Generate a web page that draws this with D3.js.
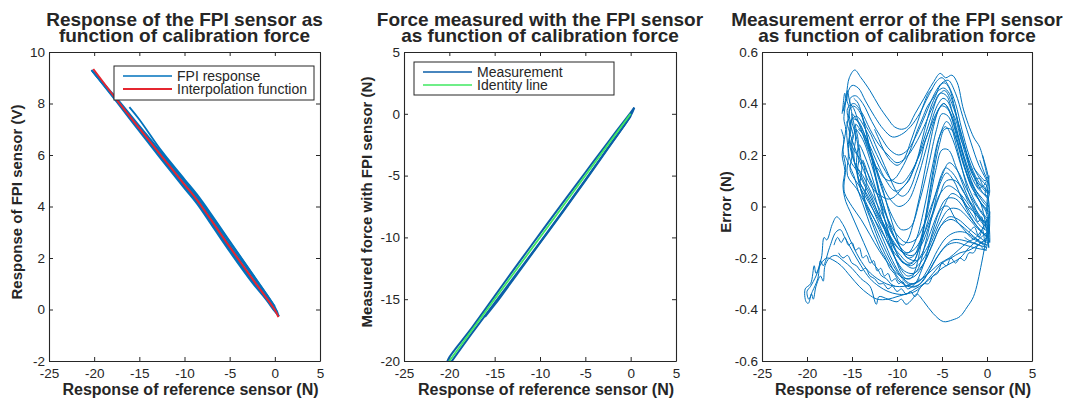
<!DOCTYPE html>
<html>
<head>
<meta charset="utf-8">
<script src="https://cdn.jsdelivr.net/npm/d3@7"></script>
<style>
  body { margin: 0; background: #fff; }
  text { font-family: "Liberation Sans", Arial, Helvetica, sans-serif; fill: #262626; }
</style>
</head>
<body>
<script>
var width = 1067, height = 401

// ---- shared ticks
var forceTicks = [-25, -20, -15, -10, -5, 0, 5]
var voltTicks = [-2, 0, 2, 4, 6, 8, 10]
var measTicks = [-20, -15, -10, -5, 0, 5]
var errTicks = [-0.6, -0.4, -0.2, 0, 0.2, 0.4, 0.6]

// ---- panel 1: FPI response (force N, voltage V)
var fpiLoad = [[0.45,-0.26],[0,0.1],[-1,0.62],[-2.5,1.38],[-5,2.62],[-7,3.62],[-8.6,4.4],[-10,5.0],[-12.5,6.07],[-15,7.13],[-17.5,8.2],[-20.3,9.3]]
var fpiUnload = [[-20.3,9.3],[-17.5,8.06],[-15,6.92],[-12.5,5.8],[-10,4.7],[-8.6,4.1],[-7,3.28],[-5,2.25],[-2.5,1.04],[-1,0.4],[0,-0.08],[0.45,-0.26]]
var fpiLoad2 = [[0.3,-0.12],[0,0.04],[-1,0.55],[-2.5,1.3],[-5,2.52],[-7,3.54],[-8.6,4.32],[-10,4.94],[-12.5,6.02],[-15,7.08],[-17.5,8.15],[-20.2,9.26]]
var fpiUnload2 = [[-20.2,9.26],[-17.5,8.1],[-15,6.98],[-12.5,5.86],[-10,4.76],[-8.6,4.16],[-7,3.36],[-5,2.32],[-2.5,1.1],[-1,0.46],[0,-0.02],[0.3,-0.15]]
var fpiPartial = [[-16.1,7.86],[-15,7.38],[-12.5,6.14],[-10,5.06],[-8.6,4.46],[-7,3.68],[-5,2.66],[-2.5,1.4],[-1,0.64],[0,0.12]]
var fpiPartial2 = [[0,-0.04],[-2.5,1.14],[-5,2.38],[-7,3.42],[-8.6,4.2],[-10,4.82],[-12.5,5.92],[-14,6.55]]
var interpForce = [-20.1, -17.5, -15, -12.5, -10, -8.6, -7, -5, -2.5, 0, 0.4]
var interpVolt = [9.34, 8.14, 7.03, 5.94, 4.85, 4.25, 3.45, 2.43, 1.2, -0.02, -0.3]

// ---- panel 2: measured force vs reference force
var measLoad = [[-20.3,-20.2],[-20,-19.7],[-17.5,-17.3],[-15,-14.75],[-12.5,-12.2],[-10,-9.7],[-7.5,-7.2],[-5,-4.75],[-2.5,-2.3],[0,0.1],[0.4,0.5]]
var measUnload = [[0.4,0.5],[0,-0.15],[-2.5,-2.75],[-5,-5.35],[-7.5,-7.9],[-10,-10.4],[-12.5,-12.85],[-15,-15.3],[-17.5,-17.75],[-20.3,-20.6]]
var measPartial = [[-16.07,-16.42],[-15,-15.45],[-12.5,-12.95],[-10,-10.45],[-7.5,-7.95],[-5,-5.4],[-2.5,-2.8],[0,-0.2]]
var identityForce = [-20, 0]

// ---- panel 3: measurement error traces (force N, error N)
var errorTraces = [
  [[0,0.12],[-0.8,0.23],[-1.5,0.27],[-2.6,0.375],[-3.3,0.48],[-3.9,0.51],[-4.6,0.5],[-5.2,0.517],[-6,0.48],[-7,0.42],[-8,0.36],[-8.8,0.31],[-9.5,0.3],[-10.3,0.31],[-11,0.34],[-12,0.39],[-13,0.45],[-14,0.5],[-14.7,0.53],[-15.3,0.5],[-15.6,0.44],[-15.8,0.4],[-16,0.37],[-15.7,0.41],[-15.9,0.34],[-15.7,0.3],[-16,0.22],[-15.7,0.15],[-15.9,0.08],[-15.8,0.05],[-15,0.0],[-14,-0.05],[-13,-0.11],[-12,-0.17],[-11,-0.22],[-10,-0.26],[-9,-0.28],[-8,-0.27],[-7,-0.22],[-6,-0.14],[-5,-0.07],[-4,-0.05],[-3,-0.07],[-2,-0.1],[-1,-0.13],[0,-0.15]],
  [[0,0.08],[-1,0.12],[-2,0.2],[-2.8,0.3],[-3.5,0.4],[-4.3,0.47],[-5,0.5],[-5.5,0.49],[-6.5,0.43],[-7.5,0.36],[-8.5,0.31],[-9.5,0.28],[-10.5,0.27],[-11.5,0.3],[-12.5,0.35],[-13.5,0.41],[-14.3,0.46],[-15,0.47],[-15.6,0.42],[-15.3,0.38],[-15.6,0.3],[-15.4,0.2],[-15.5,0.12],[-14.5,0.07],[-13.5,0.01],[-12.5,-0.05],[-11.5,-0.11],[-10.5,-0.17],[-9.5,-0.21],[-8.5,-0.23],[-7.5,-0.2],[-6.5,-0.12],[-5.5,-0.03],[-4.5,0.03],[-3.5,0.03],[-2.5,-0.01],[-1.5,-0.06],[-0.5,-0.1],[0.2,-0.12]],
  [[0,0.04],[-1,0.07],[-2,0.14],[-3,0.25],[-3.8,0.36],[-4.5,0.43],[-5.2,0.44],[-6,0.39],[-7,0.31],[-8,0.24],[-9,0.19],[-10,0.17],[-11,0.2],[-12,0.24],[-13,0.3],[-14,0.37],[-14.8,0.4],[-15.5,0.38],[-15.2,0.3],[-15.4,0.24],[-15.2,0.18],[-14.3,0.13],[-13.3,0.06],[-12.3,-0.01],[-11.3,-0.08],[-10.3,-0.14],[-9.3,-0.18],[-8.3,-0.19],[-7.3,-0.15],[-6.3,-0.06],[-5.3,0.04],[-4.5,0.1],[-3.5,0.1],[-2.5,0.05],[-1.5,0.0],[-0.5,-0.05],[0.2,-0.08]],
  [[0,0.0],[-0.5,0.02],[-1.5,0.08],[-2.4,0.17],[-3.2,0.27],[-4,0.36],[-4.8,0.4],[-5.5,0.37],[-6.5,0.29],[-7.5,0.2],[-8.5,0.13],[-9.5,0.09],[-10.5,0.1],[-11.5,0.15],[-12.5,0.22],[-13.5,0.3],[-14.5,0.35],[-15.2,0.33],[-14.9,0.28],[-15.1,0.25],[-14.8,0.22],[-14,0.18],[-13,0.11],[-12,0.03],[-11,-0.05],[-10,-0.11],[-9,-0.14],[-8,-0.13],[-7,-0.07],[-6,0.02],[-5,0.12],[-4.2,0.17],[-3.3,0.14],[-2.3,0.07],[-1.3,0.01],[-0.3,-0.04],[0.2,-0.06]],
  [[0.1,-0.02],[-0.6,0.01],[-1.6,0.07],[-2.6,0.16],[-3.5,0.27],[-4.3,0.35],[-5,0.36],[-5.6,0.3],[-6.5,0.16],[-7.5,0.02],[-8.5,-0.08],[-9.5,-0.09],[-10.5,-0.04],[-11.5,0.05],[-12.5,0.16],[-13.5,0.27],[-14.3,0.33],[-15,0.34],[-14.6,0.27],[-14.8,0.2],[-14.2,0.1],[-13.2,0.03],[-12.2,-0.05],[-11.2,-0.13],[-10.2,-0.2],[-9.2,-0.25],[-8.2,-0.26],[-7.2,-0.23],[-6.2,-0.16],[-5.2,-0.08],[-4.2,-0.04],[-3.2,-0.05],[-2.2,-0.08],[-1.2,-0.11],[0,-0.14]],
  [[0.1,-0.05],[-1,0.0],[-2,0.07],[-2.9,0.16],[-3.8,0.26],[-4.6,0.31],[-5.3,0.27],[-6.1,0.15],[-7,-0.01],[-7.9,-0.13],[-8.8,-0.18],[-9.8,-0.15],[-10.8,-0.07],[-11.8,0.04],[-12.8,0.16],[-13.8,0.26],[-14.6,0.3],[-14.2,0.2],[-14.4,0.12],[-13.5,0.02],[-12.5,-0.05],[-11.5,-0.13],[-10.5,-0.21],[-9.5,-0.27],[-8.5,-0.3],[-7.5,-0.29],[-6.5,-0.24],[-5.5,-0.17],[-4.5,-0.12],[-3.5,-0.1],[-2.5,-0.1],[-1.5,-0.12],[0,-0.16]],
  [[0.2,-0.09],[-0.4,-0.07],[-1.4,-0.02],[-2.4,0.06],[-3.4,0.15],[-4.3,0.22],[-5,0.22],[-5.7,0.14],[-6.5,0.0],[-7.4,-0.14],[-8.3,-0.22],[-9.3,-0.22],[-10.3,-0.16],[-11.3,-0.06],[-12.3,0.06],[-13.3,0.17],[-14.2,0.24],[-13.9,0.15],[-14.1,0.08],[-13.4,0.0],[-12.4,-0.08],[-11.4,-0.16],[-10.4,-0.23],[-9.4,-0.28],[-8.4,-0.31],[-7.4,-0.3],[-6.4,-0.25],[-5.4,-0.19],[-4.4,-0.15],[-3.4,-0.14],[-2.4,-0.15],[-1.4,-0.16],[0,-0.17]],
  [[0.1,-0.12],[-0.8,-0.09],[-1.8,-0.04],[-2.8,0.03],[-3.7,0.1],[-4.5,0.13],[-5.2,0.09],[-6,-0.02],[-6.9,-0.15],[-7.8,-0.25],[-8.8,-0.27],[-9.8,-0.23],[-10.8,-0.15],[-11.8,-0.04],[-12.8,0.08],[-13.8,0.18],[-13.4,0.1],[-13.6,0.02],[-12.8,-0.06],[-11.8,-0.15],[-10.8,-0.22],[-9.8,-0.28],[-8.8,-0.31],[-7.8,-0.31],[-6.8,-0.27],[-5.8,-0.21],[-4.8,-0.16],[-3.8,-0.13],[-2.8,-0.13],[-1.8,-0.14],[0,-0.16]],
  [[0,0.1],[-0.9,0.16],[-1.8,0.25],[-2.7,0.35],[-3.5,0.44],[-4.3,0.49],[-5,0.48],[-5.8,0.44],[-6.8,0.36],[-7.8,0.28],[-8.8,0.22],[-9.8,0.2],[-10.8,0.22],[-11.8,0.27],[-12.8,0.33],[-13.8,0.4],[-14.6,0.43],[-15.2,0.42],[-15,0.35],[-15.3,0.28],[-15,0.2],[-15.2,0.14],[-14.2,0.08],[-13.2,0.02],[-12.2,-0.04],[-11.2,-0.1],[-10.2,-0.15],[-9.2,-0.18],[-8.2,-0.17],[-7.2,-0.12],[-6.2,-0.04],[-5.2,0.05],[-4.3,0.08],[-3.3,0.06],[-2.3,0.02],[-1.3,-0.03],[0,-0.07]],
  [[0,0.06],[-1,0.1],[-2,0.18],[-3,0.3],[-3.9,0.4],[-4.7,0.45],[-5.4,0.43],[-6.3,0.34],[-7.2,0.24],[-8.2,0.14],[-9.2,0.08],[-10.2,0.06],[-11.2,0.1],[-12.2,0.17],[-13.2,0.25],[-14.2,0.32],[-15,0.36],[-14.7,0.3],[-15,0.24],[-14.7,0.17],[-13.8,0.12],[-12.8,0.05],[-11.8,-0.02],[-10.8,-0.09],[-9.8,-0.15],[-8.8,-0.2],[-7.8,-0.21],[-6.8,-0.17],[-5.8,-0.09],[-4.8,0.0],[-3.9,0.05],[-2.9,0.03],[-1.9,-0.02],[-0.9,-0.07],[0.2,-0.1]],
  [[0.1,-0.03],[-0.8,0.02],[-1.8,0.1],[-2.7,0.2],[-3.6,0.31],[-4.4,0.38],[-5.1,0.39],[-5.9,0.33],[-6.8,0.22],[-7.8,0.1],[-8.8,0.02],[-9.8,0.0],[-10.8,0.03],[-11.8,0.1],[-12.8,0.19],[-13.8,0.28],[-14.6,0.32],[-14.3,0.25],[-14.5,0.17],[-14.2,0.1],[-13.2,0.04],[-12.2,-0.03],[-11.2,-0.1],[-10.2,-0.17],[-9.2,-0.22],[-8.2,-0.24],[-7.2,-0.21],[-6.2,-0.14],[-5.2,-0.06],[-4.2,-0.01],[-3.2,-0.01],[-2.2,-0.04],[-1.2,-0.08],[0,-0.12]],
  [[0.3,-0.04],[-0.4,-0.08],[-1.2,-0.12],[-2.2,-0.14],[-3.2,-0.17],[-4.2,-0.2],[-5.2,-0.22],[-6.2,-0.25],[-7.2,-0.28],[-8.2,-0.3],[-9.2,-0.31],[-10.2,-0.31],[-11.2,-0.3],[-12.2,-0.28],[-13.2,-0.25],[-14.2,-0.2],[-15.2,-0.13],[-16,-0.07],[-16.7,-0.04],[-17.2,-0.07],[-17.8,-0.13],[-18.1,-0.12],[-18.4,-0.2],[-19,-0.26],[-19.2,-0.23],[-19.6,-0.3],[-20.2,-0.32],[-20.1,-0.37],[-19.85,-0.376],[-19.5,-0.34],[-19.3,-0.36],[-19,-0.31],[-18.5,-0.27],[-18.2,-0.29],[-18,-0.23],[-17.5,-0.2],[-16.8,-0.19],[-16,-0.21],[-15,-0.24],[-14,-0.28],[-13,-0.31],[-12.3,-0.38],[-12,-0.35],[-11,-0.36],[-10,-0.37],[-9.5,-0.36],[-9,-0.38],[-8.3,-0.36],[-7.8,-0.34],[-7,-0.37],[-6,-0.415],[-4.85,-0.447],[-3.8,-0.44],[-3,-0.427],[-2.2,-0.39],[-1.5,-0.35],[-0.6,-0.22],[0,-0.1],[0.33,-0.02]],
  [[0,-0.1],[-1,-0.13],[-2,-0.16],[-3,-0.2],[-4,-0.22],[-5,-0.24],[-6,-0.27],[-7,-0.3],[-8,-0.32],[-9,-0.34],[-10,-0.34],[-11,-0.33],[-12,-0.31],[-13,-0.28],[-14,-0.23],[-15,-0.17],[-15.8,-0.12],[-16.3,-0.09],[-16.8,-0.1],[-17.5,-0.16],[-18.2,-0.23],[-18.5,-0.21],[-18.8,-0.28],[-19.4,-0.33],[-19.8,-0.36],[-20,-0.33],[-19.6,-0.31],[-19,-0.27],[-18.4,-0.22],[-17.8,-0.2],[-17,-0.21],[-16.2,-0.23],[-15.2,-0.27],[-14.2,-0.31],[-13.2,-0.34],[-12.2,-0.36],[-11,-0.36],[-10,-0.35],[-9,-0.34],[-8,-0.33],[-7,-0.3],[-6,-0.26],[-5,-0.22],[-4,-0.2],[-3,-0.18],[-2,-0.17],[-1,-0.15],[0,-0.12]],
  [[-16.5,-0.18],[-16,-0.2],[-15.5,-0.19],[-15,-0.22],[-14.5,-0.23],[-14,-0.25],[-13.5,-0.24],[-13,-0.27],[-12.5,-0.28],[-12,-0.3],[-11.5,-0.3],[-11,-0.32],[-10.5,-0.31],[-10,-0.33],[-9.5,-0.32],[-9,-0.34],[-8.5,-0.33],[-8,-0.35],[-7.5,-0.32],[-7,-0.3],[-6.5,-0.3],[-6,-0.27],[-5.5,-0.26],[-5,-0.22],[-4.5,-0.23],[-4,-0.2],[-3.5,-0.22],[-3,-0.2],[-2.5,-0.21],[-2,-0.18],[-1.5,-0.18],[-1,-0.15],[0,-0.13]],
  [[-17,-0.15],[-16.6,-0.12],[-16.2,-0.14],[-15.8,-0.12],[-15.4,-0.15],[-15,-0.14],[-14.6,-0.17],[-14.2,-0.16],[-13.8,-0.2],[-13.4,-0.19],[-13,-0.22],[-12.6,-0.21],[-12.2,-0.25],[-11.8,-0.24],[-11.4,-0.27],[-11,-0.26],[-10.6,-0.29],[-10.2,-0.28],[-9.8,-0.3],[-9.4,-0.29],[-9,-0.31],[-8.5,-0.3],[-8,-0.3],[-7.5,-0.28]],
  [[0.1,0.05],[-0.4,0.08],[-0.9,0.07],[-1.4,0.12],[-1.9,0.15],[-2.4,0.22],[-2.9,0.26],[-3.4,0.33],[-3.9,0.37],[-4.4,0.41],[-4.9,0.42],[-5.4,0.4],[-5.9,0.36],[-6.4,0.3],[-6.9,0.25],[-7.4,0.18],[-7.9,0.13],[-8.4,0.08],[-8.9,0.05],[-9.4,0.04],[-9.9,0.05],[-10.4,0.08],[-10.9,0.12],[-11.4,0.16],[-11.9,0.2],[-12.4,0.24],[-12.9,0.28],[-13.4,0.31],[-13.9,0.35],[-14.4,0.38],[-14.9,0.39],[-15.3,0.37],[-15.1,0.3],[-15.3,0.26],[-15,0.2],[-14.6,0.16],[-14.1,0.13],[-13.6,0.09],[-13.1,0.06],[-12.6,0.02],[-12.1,-0.03],[-11.6,-0.06],[-11.1,-0.1],[-10.6,-0.13],[-10.1,-0.17],[-9.6,-0.19],[-9.1,-0.21],[-8.6,-0.22],[-8.1,-0.21],[-7.6,-0.17],[-7.1,-0.12],[-6.6,-0.06],[-6.1,0.0],[-5.6,0.06],[-5.1,0.12],[-4.6,0.15],[-4.1,0.14],[-3.6,0.12],[-3.1,0.09],[-2.6,0.06],[-2.1,0.02],[-1.6,0.0],[-1.1,-0.03],[-0.6,-0.05],[0,-0.06]],
  [[0.1,0.03],[-0.6,0.06],[-1.2,0.1],[-1.8,0.15],[-2.4,0.22],[-3,0.3],[-3.6,0.38],[-4.2,0.44],[-4.8,0.46],[-5.4,0.45],[-6,0.42],[-6.6,0.39],[-7.2,0.34],[-7.8,0.29],[-8.4,0.23],[-9,0.18],[-9.6,0.14],[-10.2,0.11],[-10.8,0.1],[-11.4,0.11],[-12,0.14],[-12.6,0.17],[-13.2,0.22],[-13.8,0.28],[-14.3,0.33],[-14.8,0.38],[-15.2,0.4],[-15.5,0.45],[-15.6,0.41],[-15.8,0.44],[-16,0.39],[-16.1,0.36]],
  [[-13.9,0.36],[-13.5,0.3],[-13,0.22],[-12.5,0.13],[-12,0.05],[-11.5,-0.03],[-11,-0.1],[-10.5,-0.17],[-10,-0.22],[-9.5,-0.26],[-9,-0.28],[-8.5,-0.28],[-8,-0.25],[-7.5,-0.18],[-7,-0.08],[-6.5,0.03],[-6,0.14],[-5.5,0.24],[-5,0.3],[-4.5,0.33],[-4,0.31],[-3.5,0.25],[-3,0.18],[-2.5,0.11],[-2,0.05],[-1.5,0.01],[-1,-0.03],[-0.5,-0.06],[0.1,-0.08]],
  [[-14.8,0.42],[-14.3,0.4],[-13.8,0.34],[-13.3,0.27],[-12.8,0.19],[-12.3,0.11],[-11.8,0.04],[-11.3,-0.02],[-10.8,-0.08],[-10.3,-0.12],[-9.8,-0.14],[-9.3,-0.15],[-8.8,-0.13],[-8.3,-0.08],[-7.8,-0.01],[-7.3,0.07],[-6.8,0.16],[-6.3,0.25],[-5.8,0.33],[-5.3,0.38],[-4.8,0.4],[-4.3,0.38],[-3.8,0.33],[-3.3,0.26],[-2.8,0.19],[-2.3,0.13],[-1.8,0.08],[-1.3,0.05],[-0.8,0.02],[-0.3,0.0],[0.2,-0.02]],
  [[-15.6,0.33],[-15.2,0.28],[-14.7,0.23],[-14.2,0.18],[-13.7,0.14],[-13.2,0.1],[-12.7,0.07],[-12.2,0.05],[-11.7,0.04],[-11.2,0.03],[-10.7,0.03],[-10.2,0.04],[-9.7,0.06],[-9.2,0.08],[-8.7,0.1],[-8.2,0.14],[-7.7,0.19],[-7.2,0.26],[-6.7,0.33],[-6.2,0.39],[-5.7,0.43],[-5.2,0.47],[-4.7,0.48],[-4.2,0.46],[-3.7,0.4],[-3.2,0.32],[-2.7,0.24],[-2.2,0.18],[-1.7,0.13],[-1.2,0.1],[-0.7,0.08],[-0.2,0.06],[0.2,0.05]],
  [[0.2,0.0],[-0.5,0.03],[-1.2,0.06],[-1.9,0.1],[-2.6,0.17],[-3.3,0.25],[-4,0.3],[-4.7,0.3],[-5.3,0.24],[-6,0.12],[-6.7,-0.02],[-7.4,-0.13],[-8.1,-0.19],[-8.8,-0.2],[-9.5,-0.17],[-10.2,-0.1],[-10.9,-0.02],[-11.6,0.07],[-12.3,0.15],[-13,0.22],[-13.7,0.28],[-14.3,0.3]],
  [[-15.8,0.2],[-15.3,0.16],[-14.8,0.12],[-14.3,0.06],[-13.8,0.01],[-13.3,-0.04],[-12.8,-0.09],[-12.3,-0.13],[-11.8,-0.17],[-11.3,-0.2],[-10.8,-0.24],[-10.3,-0.26],[-9.8,-0.29],[-9.3,-0.3],[-8.8,-0.32],[-8.3,-0.31],[-7.8,-0.29],[-7.3,-0.25],[-6.8,-0.2],[-6.3,-0.13],[-5.8,-0.07],[-5.3,-0.02],[-4.8,0.0],[-4.3,0.0],[-3.8,-0.03],[-3.3,-0.06],[-2.8,-0.08],[-2.3,-0.1],[-1.8,-0.12],[-1.3,-0.13],[-0.8,-0.14],[0,-0.15]],
  [[-12.5,0.3],[-12,0.26],[-11.5,0.22],[-11,0.19],[-10.5,0.17],[-10,0.16],[-9.5,0.17],[-9,0.2],[-8.5,0.25],[-8,0.3],[-7.5,0.35],[-7,0.4],[-6.5,0.44],[-6,0.46]],
  [[-16.2,0.3],[-15.9,0.26],[-16.1,0.2],[-15.8,0.14],[-16,0.08],[-15.7,0.02],[-15.2,-0.02],[-14.7,-0.06],[-14.2,-0.1],[-13.7,-0.14],[-13.2,-0.18],[-12.7,-0.22],[-12.2,-0.24],[-11.7,-0.27],[-11.2,-0.28],[-10.7,-0.3],[-10.2,-0.31]],
  [[-3,0.05],[-2.2,0.0],[-1.5,-0.02],[-1,-0.06],[-0.6,-0.04],[-0.3,-0.09],[0,-0.05],[0.2,-0.11],[0.3,-0.03],[0.1,0.02],[0.3,0.06],[0,0.1],[-0.4,0.08],[-0.9,0.11],[-1.5,0.1]],
  [[-2,-0.1],[-1.4,-0.08],[-0.9,-0.12],[-0.5,-0.09],[-0.2,-0.14],[0.1,-0.1],[0.3,-0.14],[0.2,-0.06],[-0.1,-0.02],[0.15,0.03],[-0.2,0.05],[0.05,0.1],[-0.3,0.13],[-0.8,0.18]],
  [[-1.5,0.05],[-0.8,0.02],[-0.3,-0.04],[0,-0.1],[0.2,-0.16],[0.1,-0.08],[0.25,0.0],[0.05,0.06],[0.2,0.12],[-0.2,0.1],[-0.8,0.12],[-1.5,0.15]],
  [[-2.5,-0.12],[-1.6,-0.14],[-0.8,-0.15],[-0.2,-0.17],[0.1,-0.13],[0.15,-0.05],[0,0.02],[0.25,0.08],[0.05,0.13],[-0.5,0.2]]
]

// ---- layout
var svg = d3.select("body").append("svg")
    .attr("width", width)
    .attr("height", height)

var plotTop = 52, plotBottom = 361

function fmt(d) { return String(Math.round(d * 10) / 10) }

function drawPanel(opt) {
  var x = d3.scaleLinear().domain([-25, 5]).range([opt.left, opt.right])
  var y = d3.scaleLinear().domain(opt.yDomain).range([plotBottom, plotTop])
  var g = svg.append("g")

  g.append("clipPath").attr("id", opt.id)
    .append("rect")
      .attr("x", opt.left).attr("y", plotTop)
      .attr("width", opt.right - opt.left).attr("height", plotBottom - plotTop)

  var axes = [
    d3.axisBottom(x).tickValues(forceTicks).tickFormat(fmt),
    d3.axisTop(x).tickValues(forceTicks).tickFormat(""),
    d3.axisLeft(y).tickValues(opt.yTicks).tickFormat(fmt),
    d3.axisRight(y).tickValues(opt.yTicks).tickFormat("")
  ]
  var shifts = ["0," + plotBottom, "0," + plotTop, opt.left + ",0", opt.right + ",0"]
  axes.forEach(function (a, i) {
    a.tickSizeInner(-4).tickSizeOuter(0).tickPadding(i < 2 ? 7 : 4)
    var ag = g.append("g")
        .attr("transform", "translate(" + shifts[i] + ")")
        .call(a)
    ag.attr("font-family", null).attr("font-size", null).attr("color", "#262626")
    ag.selectAll("text").style("font-size", "13.5px")
    ag.select(".domain").attr("stroke-width", 1.1)
  })

  var lines = g.append("g").attr("clip-path", "url(#" + opt.id + ")")

  // titles and labels
  var cx = (opt.left + opt.right) / 2
  opt.title.forEach(function (t, i) {
    g.append("text")
        .attr("x", cx).attr("y", 26 + i * 16)
        .attr("text-anchor", "middle")
        .style("font-size", "19px").style("font-weight", "bold")
        .text(t)
  })
  g.append("text")
      .attr("x", cx + 6).attr("y", 395)
      .attr("text-anchor", "middle")
      .style("font-size", "16px").style("font-weight", "bold")
      .text("Response of reference sensor (N)")
  g.append("text")
      .attr("transform", "translate(" + opt.yLabelX + ",202) rotate(-90)")
      .attr("text-anchor", "middle")
      .style("font-size", "15px").style("font-weight", "bold")
      .text(opt.yLabel)

  return { x: x, y: y, g: g, lines: lines }
}

function legend(g, x0, y0, w, h, items) {
  var lg = g.append("g").attr("transform", "translate(" + x0 + "," + y0 + ")")
  lg.append("rect")
      .attr("width", w).attr("height", h)
      .attr("fill", "#fff").attr("stroke", "#262626").attr("stroke-width", 1)
  items.forEach(function (it, i) {
    var yy = 10 + i * 13
    lg.append("line")
        .attr("x1", 9).attr("x2", 58).attr("y1", yy).attr("y2", yy)
        .attr("stroke", it.color).attr("stroke-width", it.width)
    lg.append("text")
        .attr("x", 63).attr("y", yy).attr("dy", "0.35em")
        .style("font-size", "14px")
        .text(it.label)
  })
}

var blue = "#0072bd", red = "#e52630", green = "#3fe860"

// ---- panel 1
var p1 = drawPanel({
  id: "clip1", left: 49, right: 320, yDomain: [-2, 10], yTicks: voltTicks, yLabelX: 22,
  title: ["Response of the FPI sensor as", "function of calibration force"],
  yLabel: "Response of FPI sensor (V)"
})
var line1 = d3.line().x(function (d) { return p1.x(d[0]) }).y(function (d) { return p1.y(d[1]) })
  .curve(d3.curveCatmullRom)
p1.lines.selectAll("path.fpi")
  .data([fpiLoad, fpiUnload, fpiLoad2, fpiUnload2, fpiPartial, fpiPartial2])
  .enter().append("path")
    .attr("class", "fpi")
    .attr("d", line1)
    .attr("fill", "none").attr("stroke", blue).attr("stroke-width", 1.8)
p1.lines.append("path")
    .attr("d", line1(interpForce.map(function (f, i) { return [f, interpVolt[i]] })))
    .attr("fill", "none").attr("stroke", red).attr("stroke-width", 2)
legend(p1.g, 114, 66, 200, 34, [
  { label: "FPI response", color: blue, width: 1.5 },
  { label: "Interpolation function", color: red, width: 2 }
])

// ---- panel 2
var p2 = drawPanel({
  id: "clip2", left: 404, right: 676, yDomain: [-20, 5], yTicks: measTicks, yLabelX: 372,
  title: ["Force measured with the FPI sensor", "as function of calibration force"],
  yLabel: "Measured force with FPI sensor (N)"
})
var line2 = d3.line().x(function (d) { return p2.x(d[0]) }).y(function (d) { return p2.y(d[1]) })
  .curve(d3.curveCatmullRom)
p2.lines.selectAll("path.meas")
  .data([measLoad, measUnload, measPartial])
  .enter().append("path")
    .attr("class", "meas")
    .attr("d", line2)
    .attr("fill", "none").attr("stroke", "#0b5ea8").attr("stroke-width", 2)
p2.lines.append("path")
    .attr("d", d3.line()(identityForce.map(function (f) { return [p2.x(f), p2.y(f)] })))
    .attr("fill", "none").attr("stroke", green).attr("stroke-width", 1.8)
legend(p2.g, 414, 62, 200, 33, [
  { label: "Measurement", color: "#0b5ea8", width: 1.5 },
  { label: "Identity line", color: green, width: 1.5 }
])

// ---- panel 3
var p3 = drawPanel({
  id: "clip3", left: 762, right: 1032, yDomain: [-0.6, 0.6], yTicks: errTicks, yLabelX: 731,
  title: ["Measurement error of the FPI sensor", "as function of calibration force"],
  yLabel: "Error (N)"
})
var line3 = d3.line().x(function (d) { return p3.x(d[0]) }).y(function (d) { return p3.y(d[1]) })
  .curve(d3.curveCatmullRom)
p3.lines.selectAll("path.err")
  .data(errorTraces)
  .enter().append("path")
    .attr("class", "err")
    .attr("d", line3)
    .attr("fill", "none").attr("stroke", blue).attr("stroke-width", 1)
</script>
</body>
</html>
